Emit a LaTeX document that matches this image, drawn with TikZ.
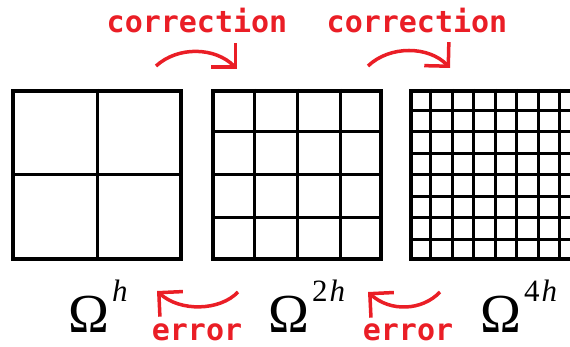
\documentclass[tikz,border=0pt]{standalone}
\usepackage{fontspec}
\usepackage{tikz}
\usetikzlibrary{arrows.meta, calc}
\newfontfamily\monofont{DejaVu Sans Mono}
\newfontfamily\greekfont{Liberation Serif}
\definecolor{errred}{RGB}{234,30,38}
\newcommand{\lev}[1]{{\greekfont\fontsize{55}{55}\selectfont Ω\kern3pt\raisebox{31pt}{\fontsize{31}{31}\selectfont #1}}}

\begin{document}
\begin{tikzpicture}[x=1pt, y=-1pt,
   mesh/.style={draw, line width=4pt, minimum size=168pt, inner sep=0pt},
   gl/.style={line width=3pt},
   lbl/.style={text=errred, font=\monofont\bfseries\fontsize{30}{30}\selectfont,
               inner sep=0pt, anchor=base},
   lv/.style={inner sep=0pt, anchor=base west},
   arr/.style={errred, line width=3.5pt, -{Straight Barb[length=17pt, width=34pt]}}]

  \useasboundingbox (0,0) rectangle (570,347);

  \node[mesh] (g1) at (97,175) {};
  \node[mesh] (g2) at (297,175) {};
  \node[mesh] (g3) at (495,175) {};

  \foreach \g/\n in {g1/2, g2/4, g3/8} {
    \pgfmathtruncatemacro\last{\n-1}
    \foreach \k in {1,...,\last} {
      \draw[gl] ($(\g.north west)!\k/\n!(\g.north east)$) -- ($(\g.south west)!\k/\n!(\g.south east)$);
      \draw[gl] ($(\g.north west)!\k/\n!(\g.south west)$) -- ($(\g.north east)!\k/\n!(\g.south east)$);
    }
  }

  \node[lbl] (corr1) at (197,33) {correction};
  \node[lbl] (corr2) at (417,33) {correction};
  \node[lbl] (err1) at (197,340) {error};
  \node[lbl] (err2) at (408,340) {error};

  \node[lv] (om1) at (68,332) {\lev{\itshape h}};
  \node[lv] (om2) at (268,332) {\lev{2\kern2pt\itshape h}};
  \node[lv] (om4) at (480,332) {\lev{4\kern2pt\itshape h}};

  \coordinate (c1s) at (156,66);
  \coordinate (c1e) at (237,69);
  \coordinate (c2s) at (368,66);
  \coordinate (c2e) at (450,68);
  \coordinate (e1s) at (238,292);
  \coordinate (e1e) at (157,291);
  \coordinate (e2s) at (440,292);
  \coordinate (e2e) at (368,292);

  \draw[arr] (c1s) .. controls (178,46) and (215,47) .. (c1e);
  \draw[arr] (c2s) .. controls (390,45) and (429,46) .. (c2e);
  \draw[arr] (e1s) .. controls (220,311) and (180,312) .. (e1e);
  \draw[arr] (e2s) .. controls (422,311) and (390,312) .. (e2e);
\end{tikzpicture}
\end{document}
